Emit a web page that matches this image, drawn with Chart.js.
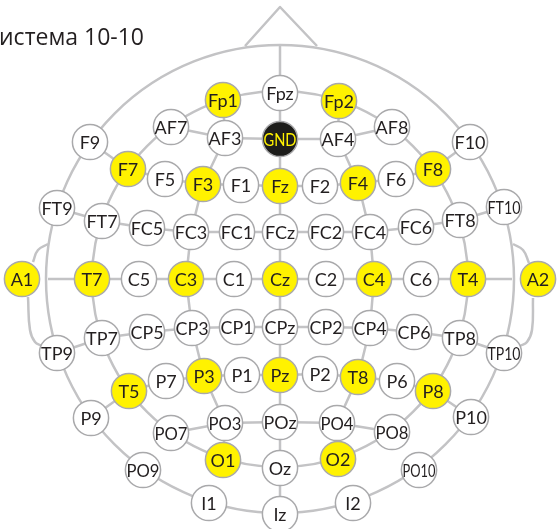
<!DOCTYPE html>
<html>
<head>
<meta charset="utf-8">
<script src="https://cdn.jsdelivr.net/npm/chart.js@4/dist/chart.umd.min.js"></script>
<style>
  html, body { margin: 0; padding: 0; background: #ffffff; }
  #wrap { position: relative; width: 560px; height: 529px; }
</style>
</head>
<body>
<div id="wrap"><canvas id="c"></canvas></div>
<script>
// ---- data (units: head coordinates, Cz at origin, y up) ----
const titleText = 'Система 10-10';
const names = ['Fp1','Fpz','Fp2','AF7','AF3','GND','AF4','AF8','F9','F10',
  'F7','F5','F3','F1','Fz','F2','F4','F6','F8',
  'FT9','FT7','FC5','FC3','FC1','FCz','FC2','FC4','FC6','FT8','FT10',
  'A1','T7','C5','C3','C1','Cz','C2','C4','C6','T4','A2',
  'TP9','TP7','CP5','CP3','CP1','CPz','CP2','CP4','CP6','TP8','TP10',
  'T5','P7','P3','P1','Pz','P2','T8','P6','P8',
  'P9','PO7','PO3','POz','PO4','PO8','P10',
  'O1','Oz','O2','PO9','PO10','I1','Iz','I2'];
const xs = [-57,0,59,-109,-55,0,58,112,-190,190,
  -152,-115,-77,-39,0,40,78,116,153,
  -223,-178,-133,-89,-43,0,46,90,136,180,224,
  -258,-188,-141,-94,-46,0,46,94,141,188,258,
  -223,-178,-133,-88,-43,0,46,90,134,180,224,
  -151,-114,-76,-38,0,40,78,117,153,
  -189,-109,-55,0,57,112,191,
  -57,0,58,-137,139,-71,0,73];
const ys = [179,186,178,152,141,140,140,152,137,137,
  110,100,95,94,93,93,96,100,110,
  71,58,51,47,47,47,47,47,52,59,72,
  0,0,0,0,0,0,0,0,0,0,0,
  -74,-59,-53,-49,-48,-48,-48,-49,-53,-59,-74,
  -112,-102,-97,-96,-96,-95,-98,-102,-112,
  -139,-154,-144,-143,-144,-153,-138,
  -181,-189,-180,-191,-191,-224,-235,-224];
const highlighted = ['Fp1','Fp2','F7','F3','Fz','F4','F8','A1','T7','C3','Cz','C4','T4','A2',
  'T5','P3','Pz','T8','P8','O1','O2'];
const groundName = 'GND';
const ringRadii = [234, 188];
// extra line ends on the outer outline
const anchorNames = ['top','left','right'];
const anchorXs = [0,-232,232];
const anchorYs = [234,0,0];
const chains = [
  ['AF7','AF3','GND','AF4','AF8'],
  ['F7','F5','F3','F1','Fz','F2','F4','F6','F8'],
  ['FT7','FC5','FC3','FC1','FCz','FC2','FC4','FC6','FT8'],
  ['left','T7','C5','C3','C1','Cz','C2','C4','C6','T4','right'],
  ['TP7','CP5','CP3','CP1','CPz','CP2','CP4','CP6','TP8'],
  ['T5','P7','P3','P1','Pz','P2','T8','P6','P8'],
  ['PO7','PO3','POz','PO4','PO8'],
  ['top','Fpz','GND','Fz','FCz','Cz','CPz','Pz','POz','Oz','Iz'],
  ['Fp1','AF3','F3','FC3','C3','CP3','P3','PO3','O1'],
  ['Fp2','AF4','F4','FC4','C4','CP4','T8','PO4','O2'],
  ['F9','F7'],['FT9','FT7'],['TP9','TP7'],['P9','T5'],
  ['F10','F8'],['FT10','FT8'],['TP10','TP8'],['P10','P8']
];
const noseXs = [-35,0,37];
const noseYs = [233,272,233];
const earCurves = [
  {xs:[-232,-242,-247], ys:[35,29,17]},
  {xs:[-252,-250,-245,-238], ys:[-18,-51,-63,-67]},
  {xs:[233,243,249], ys:[35,29,16]},
  {xs:[253,252,247,240], ys:[-19,-51,-63,-67]}
];

// ---- styles ----
const LINE = '#c3c3c5';
const LW = 2.5;
const YELLOW = '#fff200';
const TEXT = '#231f20';

const posOf = {};
names.forEach((n,i)=>{ posOf[n] = {x: xs[i], y: ys[i]}; });
anchorNames.forEach((n,i)=>{ posOf[n] = {x: anchorXs[i], y: anchorYs[i]}; });

const datasets = [];
datasets.push({
  label: 'electrodes',
  data: names.map(n => posOf[n]),
  showLine: false,
  pointRadius: 17.6,
  pointHoverRadius: 17.6,
  pointBorderWidth: 1.5,
  pointBorderColor: '#a9a9ab',
  pointBackgroundColor: names.map(n => n === groundName ? '#1d1d1b' : (highlighted.includes(n) ? YELLOW : '#ffffff')),
  order: 0
});
chains.forEach(ch => datasets.push({
  data: ch.map(n => posOf[n]), showLine: true, borderColor: LINE, borderWidth: LW,
  pointRadius: 0, tension: 0, order: 2
}));
datasets.push({
  data: noseXs.map((x,i)=>({x, y: noseYs[i]})), showLine: true, borderColor: LINE, borderWidth: LW,
  pointRadius: 0, tension: 0, order: 2, borderJoinStyle: 'round'
});
earCurves.forEach(e => datasets.push({
  data: e.xs.map((x,i)=>({x, y: e.ys[i]})), showLine: true, borderColor: LINE, borderWidth: LW,
  pointRadius: 0, tension: 0.45, order: 2
}));

const ringPlugin = {
  id: 'rings',
  beforeDatasetsDraw(chart) {
    const {ctx, scales: {x, y}} = chart;
    const cx = x.getPixelForValue(0), cy = y.getPixelForValue(0);
    ctx.save();
    ctx.strokeStyle = LINE; ctx.lineWidth = LW;
    ringRadii.forEach(r => {
      const rad = x.getPixelForValue(r) - cx;
      ctx.beginPath(); ctx.arc(cx, cy, rad, 0, Math.PI*2); ctx.stroke();
    });
    ctx.restore();
  }
};
const labelPlugin = {
  id: 'labels',
  afterDatasetsDraw(chart) {
    const {ctx} = chart;
    const meta = chart.getDatasetMeta(0);
    ctx.save();
    ctx.font = '18px Lato, "Open Sans", sans-serif';
    ctx.textAlign = 'center'; ctx.textBaseline = 'middle';
    meta.data.forEach((el, i) => {
      const n = names[i];
      ctx.fillStyle = n === groundName ? YELLOW : TEXT;
      ctx.fillText(n, el.x, el.y + 1, 33);
    });
    // title (first letter falls off the left edge as in the original)
    ctx.font = '23px "Open Sans", sans-serif';
    ctx.fillStyle = TEXT;
    ctx.textAlign = 'left'; ctx.textBaseline = 'alphabetic';
    const firstW = ctx.measureText(titleText.charAt(0)).width;
    ctx.fillText(titleText, -firstW - 1, 45);
    ctx.restore();
  }
};

new Chart(document.getElementById('c'), {
  type: 'scatter',
  data: { datasets },
  options: {
    responsive: true, maintainAspectRatio: false, animation: false, events: [],
    layout: { padding: 0, autoPadding: false },
    plugins: { legend: { display: false }, tooltip: { enabled: false }, title: { display: false } },
    scales: {
      x: { type: 'linear', min: -280, max: 280, display: false },
      y: { type: 'linear', min: -250, max: 279, display: false }
    }
  },
  plugins: [ringPlugin, labelPlugin]
});
</script>
</body>
</html>
